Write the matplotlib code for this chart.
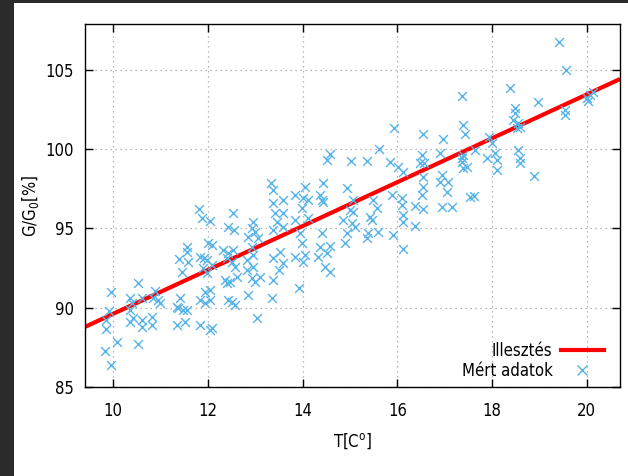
import matplotlib
matplotlib.use("Agg")
import matplotlib.pyplot as plt
from matplotlib.patches import Rectangle
from matplotlib.lines import Line2D

# measured points: temperature [C] and relative value [%]
temp = [
    9.96, 9.92, 9.85, 9.85, 9.83, 9.96, 10.08,
    11.81, 11.88, 12.05, 12.53, 12.43, 12.55, 12.95, 12.93, 12.99, 12.85, 13.06,
    13.38, 13.42, 13.46, 13.38, 11.56, 11.56, 11.39, 11.58, 11.46, 11.84, 11.92,
    12.00, 12.09, 11.98, 12.09, 11.90, 11.98, 12.32, 12.43, 12.53, 12.41, 12.51,
    12.57, 12.36, 12.47, 12.62, 12.41, 12.83, 12.95, 12.93, 13.10, 12.99, 12.83,
    12.95, 13.38, 13.50, 13.38, 13.35, 12.85, 13.04, 10.53, 10.36, 10.61, 10.89,
    10.84, 10.95, 10.40, 10.36, 10.42, 10.36, 10.61, 10.61, 10.82, 10.82, 10.53,
    11.35, 11.41, 11.37, 11.48, 11.56, 11.35, 11.52, 11.84, 11.94, 12.05, 11.84,
    12.09, 12.05, 11.94, 12.05, 12.51, 12.43, 12.57, 10.99, 12.93,
    15.93, 16.54, 16.96, 17.38, 17.43, 15.61, 14.58, 14.51, 15.02, 15.36, 15.84,
    16.01, 16.12, 16.52, 16.48, 16.56, 16.90, 17.36, 17.47, 17.38, 16.54, 16.94,
    16.90, 17.07, 16.54, 16.52, 17.05, 17.53, 16.94, 17.15, 16.37, 16.54, 16.10,
    16.10, 16.12, 16.12, 16.37, 15.91, 16.12, 15.89, 14.94, 14.43, 14.05, 13.84,
    14.01, 14.11, 13.99, 14.37, 14.41, 14.43, 15.06, 15.00, 15.06, 15.49, 15.57,
    15.42, 15.46, 14.85, 15.04, 15.11, 14.94, 14.89, 15.59, 15.38, 15.36, 14.11,
    13.84, 13.59, 13.59, 13.59, 14.41, 13.95, 13.99, 14.37, 14.58, 14.51, 14.32,
    13.84, 14.05, 14.01, 13.59, 14.47, 14.58, 13.52,
    19.41, 19.56, 18.38, 17.36, 18.97, 18.48, 18.48, 18.44, 18.54, 18.59, 18.52,
    19.54, 19.54, 20.00, 20.06, 20.13, 20.02, 17.93, 18.00, 17.64, 17.38, 17.36,
    17.89, 18.10, 18.06, 18.54, 18.59, 18.59, 17.62, 18.88, 18.10,
    13.33, 13.38, 13.93,
]
ratio = [
    90.99, 89.79, 89.23, 88.66, 87.27, 86.39, 87.84,
    96.23, 95.66, 95.47, 95.98, 95.09, 94.91, 95.41, 95.03, 94.78, 94.46, 94.40,
    96.61, 95.98, 95.41, 94.91, 93.83, 93.52, 93.08, 92.89, 92.26, 93.20, 93.14,
    94.09, 93.96, 93.01, 92.70, 92.51, 92.19, 93.64, 93.45, 93.64, 93.14, 92.89,
    92.57, 91.75, 91.62, 91.94, 91.56, 92.38, 92.57, 91.88, 91.94, 91.62, 93.01,
    93.33, 93.14, 92.38, 91.75, 90.62, 90.80, 89.35, 91.56, 90.62, 90.62, 91.06,
    90.62, 90.49, 90.30, 89.86, 89.35, 89.10, 89.23, 88.79, 89.42, 88.91, 87.71,
    90.05, 90.62, 89.98, 89.86, 89.86, 88.91, 89.10, 90.49, 90.30, 90.49, 88.91,
    88.72, 88.60, 90.99, 91.12, 90.36, 90.49, 90.17, 90.30, 93.83,
    101.34, 100.96, 100.65, 101.53, 100.96, 100.02, 99.70, 99.32, 99.26, 99.26, 99.20,
    98.88, 98.56, 99.64, 99.13, 99.13, 99.76, 99.45, 98.88, 98.82, 98.25, 98.38,
    97.93, 97.93, 97.62, 97.11, 97.30, 96.99, 96.36, 96.36, 96.42, 96.23, 96.92,
    96.48, 95.85, 95.41, 95.16, 94.59, 93.71, 97.11, 97.56, 97.87, 97.62, 97.11,
    96.92, 96.80, 96.29, 97.11, 96.80, 96.67, 96.80, 96.17, 96.04, 96.80, 96.29,
    95.73, 95.54, 95.54, 95.35, 95.09, 94.72, 94.09, 94.78, 94.72, 94.40, 95.66,
    95.54, 95.09, 95.98, 96.80, 94.72, 94.72, 94.09, 93.83, 93.90, 93.45, 93.20,
    93.20, 93.33, 92.89, 92.82, 92.57, 92.26, 93.52,
    106.77, 105.00, 103.86, 103.36, 102.98, 102.60, 102.29, 101.85, 101.66, 101.40, 101.34,
    102.48, 102.16, 103.23, 103.42, 103.61, 103.04, 100.77, 100.39, 99.95, 99.64, 99.20,
    99.45, 99.32, 99.76, 99.95, 99.45, 99.13, 97.05, 98.31, 98.70,
    97.87, 97.43, 91.25,
]

# fitted line  G/G0 = a*T + b
fit_a = 1.385
fit_b = 75.76

x_ticks = [10, 12, 14, 16, 18, 20]
y_ticks = [85, 90, 95, 100, 105]
x_range = (9.41, 20.70)
y_range = (85, 107.9)

plt.rcParams['font.family'] = ['DejaVu Sans']
plt.rcParams['font.stretch'] = 'condensed'

fig = plt.figure(figsize=(6.28, 4.76), dpi=100, facecolor='#2b2b2b')
bg = Rectangle((14 / 628, 0), 1 - 14 / 628, 473 / 476,
               transform=fig.transFigure, facecolor='white',
               edgecolor='none', zorder=-10)
fig.add_artist(bg)

ax = fig.add_axes([85 / 628, 1 - 387 / 476, 535 / 628, 363 / 476])
ax.set_zorder(1)

fx = list(x_range)
fy = [fit_a * v + fit_b for v in fx]
ax.plot(fx, fy, color='#ff0000', linewidth=3, zorder=2, solid_capstyle='butt')
ax.scatter(temp, ratio, marker='x', s=40, linewidths=1.0, color='#56b4e9', zorder=3)

ax.set_xlim(x_range)
ax.set_ylim(y_range)
ax.set_xticks(x_ticks)
ax.set_yticks(y_ticks)
ax.tick_params(direction='in', length=6, width=1, top=True, right=True,
               labelsize=12)
ax.tick_params(axis='x', pad=11)
ax.tick_params(axis='y', pad=8)
ax.grid(True, linestyle=(0, (1, 3)), color='#a0a0a0', linewidth=0.9)
for s in ax.spines.values():
    s.set_linewidth(1.0)

ax.set_xlabel('T[C$^{\\mathrm{o}}$]', fontsize=12, labelpad=8)
ax.set_ylabel('G/G$_{\\mathrm{0}}$[%]', fontsize=12, labelpad=3)

h_line = Line2D([], [], color='#ff0000', linewidth=3)
h_pts = Line2D([], [], color='#56b4e9', marker='x', linestyle='none',
               markersize=6.5, markeredgewidth=1.0)
ax.legend([h_line, h_pts], ['Illesztés', 'Mért adatok'], loc='lower right',
          bbox_to_anchor=(0.992, -0.012),
          frameon=False, markerfirst=False, fontsize=12, handlelength=2.6,
          labelspacing=0.12, borderaxespad=0.3, handletextpad=0.5)

fig.savefig('out.png', dpi=100, facecolor=fig.get_facecolor())
